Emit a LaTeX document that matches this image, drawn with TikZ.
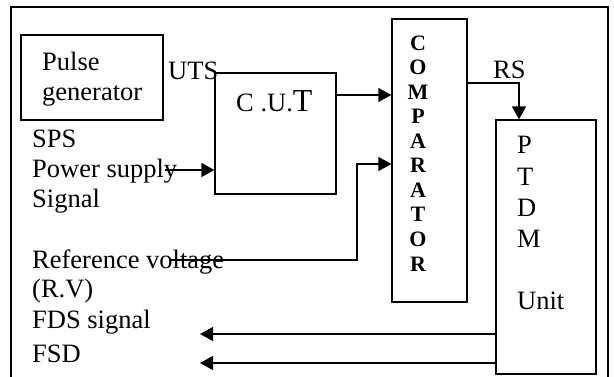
\documentclass[tikz,border=0pt]{standalone}
\usepackage{fontspec}
\setmainfont{Liberation Serif}
\usetikzlibrary{arrows.meta}
\begin{document}
\begin{tikzpicture}[x=1pt,y=-1pt,
  box/.style={draw, line width=1.3pt, inner sep=0pt},
  lbl/.style={anchor=base west, inner sep=0pt, font=\fontsize{26.5}{30}\selectfont},
  cmp/.style={anchor=base, inner sep=0pt, font=\fontsize{22}{24}\selectfont\bfseries},
  conn/.style={line width=1.3pt},
  arr/.style={conn, -{Triangle[length=13pt,width=14pt]}}]
\useasboundingbox (0,0) rectangle (614,376);
% outer frame (bottom edge outside picture)
\draw[line width=1.3pt] (11,380) -- (11,7) -- (608,7) -- (608,380);
% blocks
\node[box, minimum width=142pt, minimum height=85pt] (pg) at (92,77.5) {};
\node[box, minimum width=121pt, minimum height=121pt] (cut) at (275.5,133.5) {};
\node[box, minimum width=75pt, minimum height=283pt] (comp) at (429.5,160.5) {};
\node[box, minimum width=100pt, minimum height=254pt] (ptdm) at (546,247) {};
% block texts
\node[lbl] (pg1) at (42,70) {Pulse};
\node[lbl] (pg2) at (42,100) {generator};
\node[lbl] (cutt) at (236,111) {C .U.{\fontsize{32}{34}\selectfont T}};
\foreach \l [count=\i from 0] in {C,O,M,P,A,R,A,T,O,R}
  \node[cmp] (c\i) at (418,50+24.56*\i) {\l};
\node[lbl] (p1) at (517,153) {P};
\node[lbl] (p2) at (517,185) {T};
\node[lbl] (p3) at (517,216) {D};
\node[lbl] (p4) at (517,247) {M};
\node[lbl] (p5) at (517,309) {Unit};
% side texts
\node[lbl] (uts) at (168,79) {UTS};
\node[lbl] (rs) at (493,78) {RS};
\node[lbl] (sps) at (32,147) {SPS};
\node[lbl] (pw) at (32,177) {Power supply};
\node[lbl] (sig) at (32,207) {Signal};
\node[lbl] (ref) at (32,268) {Reference voltage};
\node[lbl] (rv) at (32,297) {(R.V)};
\node[lbl] (fds) at (32,328) {FDS signal};
\node[lbl] (fsd) at (32,362) {FSD};
% connector endpoints
\coordinate (pwS) at (165,170);
\coordinate (rvS) at (170,260);
\coordinate (rvK) at (357,260);
\coordinate (fdsE) at (200,334);
\coordinate (fsdE) at (200,363);
% connectors
\draw[arr] (pwS) -- (pwS -| cut.west);
\draw[arr] (cut.east |- 0,95) -- (comp.west |- 0,95);
\draw[arr] (rvS) -- (rvK) -- (rvK |- 0,164) -- (comp.west |- 0,164);
\draw[arr] (comp.east |- 0,83) -| (519,0 |- ptdm.north);
\draw[arr] (ptdm.west |- fdsE) -- (fdsE);
\draw[arr] (ptdm.west |- fsdE) -- (fsdE);
\end{tikzpicture}
\end{document}
